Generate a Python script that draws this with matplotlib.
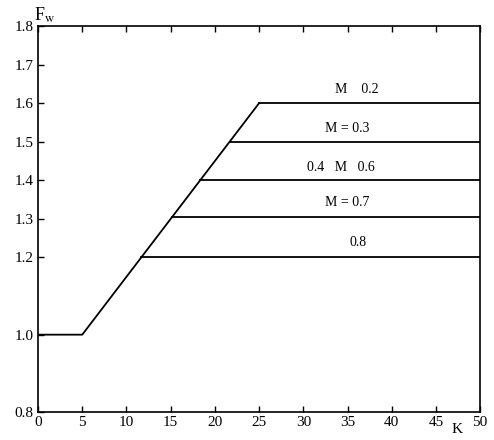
import matplotlib
matplotlib.use('Agg')
import matplotlib.pyplot as plt

plt.rcParams['font.family'] = ['Liberation Serif', 'DejaVu Serif']
plt.rcParams['mathtext.fontset'] = 'stix'

# base curve: flat, then rising ramp up to the top level
base_k = [0, 5, 25]
base_fw = [1.0, 1.0, 1.6]

# horizontal plateaus (start on the ramp, run to K = 50)
plateau_fw = [1.6, 1.5, 1.4, 1.305, 1.2]
plateau_start = [25, 21.67, 18.33, 15.17, 11.67]
plateau_end = 50

labels = ['M    0.2', 'M = 0.3', '0.4   M   0.6', 'M = 0.7', '0.8']
label_k = [36.0, 35.0, 34.3, 35.0, 36.2]
label_fw = [1.635, 1.535, 1.432, 1.342, 1.238]

x_ticks = list(range(0, 51, 5))
y_ticks = [0.8, 1.0, 1.2, 1.3, 1.4, 1.5, 1.6, 1.7, 1.8]


def main() -> None:
    fig = plt.figure(figsize=(4.94, 4.4), dpi=100)
    ax = fig.add_axes([0.077, 0.064, 0.895, 0.877])

    ax.plot(base_k, base_fw, color='black', lw=1.3)
    for fw, k0 in zip(plateau_fw, plateau_start):
        ax.plot([k0, plateau_end], [fw, fw], color='black', lw=1.3)

    for txt, k, fw in zip(labels, label_k, label_fw):
        ax.text(k, fw, txt, ha='center', va='center', fontsize=10)

    ax.set_xlim(0, 50)
    ax.set_ylim(0.8, 1.8)
    ax.set_xticks(x_ticks)
    ax.set_yticks(y_ticks)
    ax.set_yticklabels([f'{v:.1f}' for v in y_ticks])
    ax.tick_params(direction='in', length=4, width=1, labelsize=11, top=True, pad=3)
    for s in ax.spines.values():
        s.set_linewidth(1.2)

    fig.text(0.068, 0.988, r'F$_{\rm w}$', ha='left', va='top', fontsize=13)
    fig.text(0.925, 0.008, 'K', ha='center', va='bottom', fontsize=11)

    fig.savefig('out.png', dpi=100)


if __name__ == '__main__':
    main()
